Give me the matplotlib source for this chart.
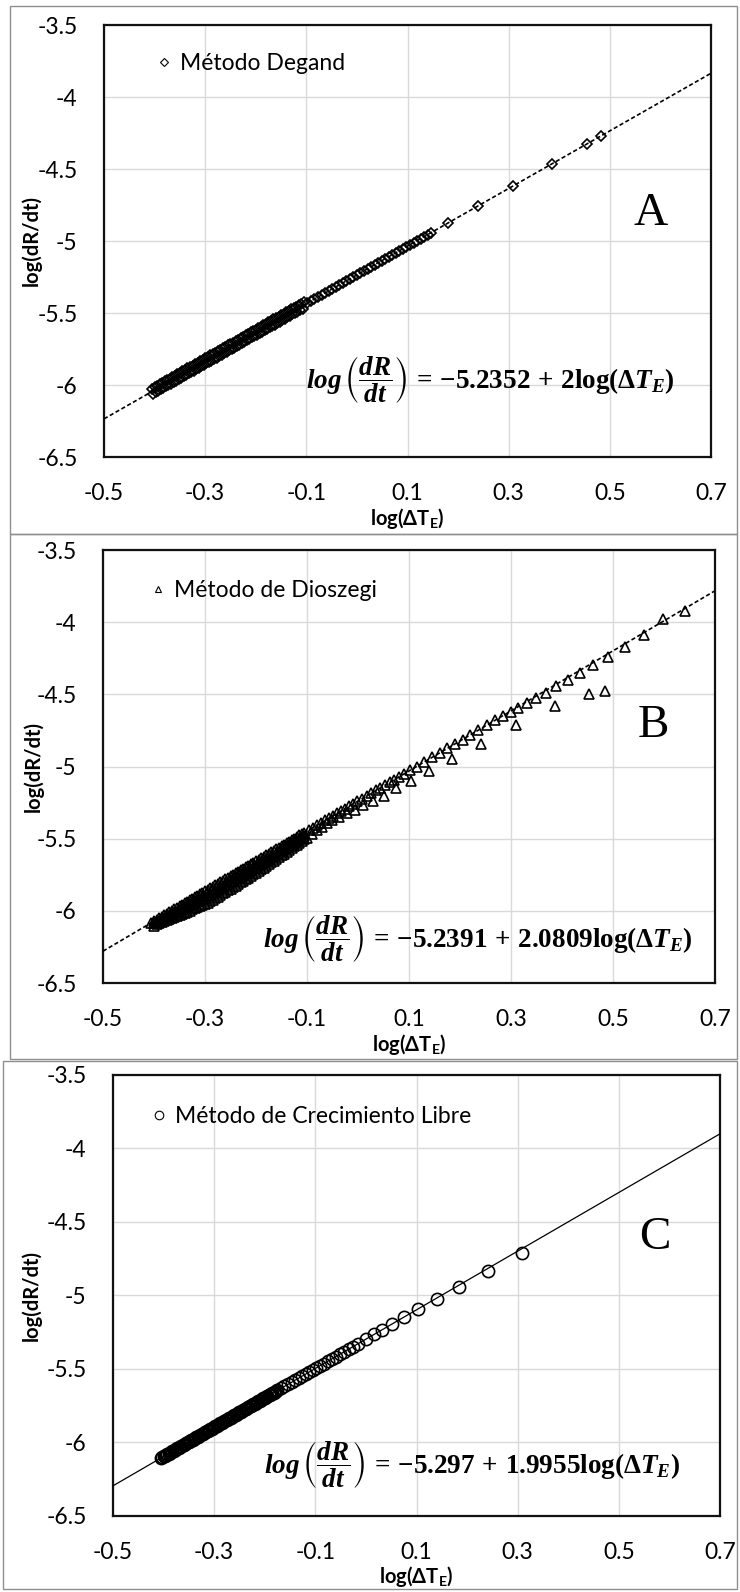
import matplotlib
matplotlib.use("Agg")
import matplotlib.pyplot as plt
import numpy as np
from matplotlib.patches import Rectangle
from matplotlib.lines import Line2D

plt.rcParams['font.family'] = ['Lato', 'DejaVu Sans']
plt.rcParams['mathtext.fontset'] = 'custom'
plt.rcParams['mathtext.rm'] = 'Liberation Serif:bold'
plt.rcParams['mathtext.it'] = 'Liberation Serif:italic:bold'
plt.rcParams['mathtext.bf'] = 'Liberation Serif:bold'
plt.rcParams['mathtext.sf'] = 'Lato:bold'
plt.rcParams['mathtext.fallback'] = 'stix'

# ---------------- data ----------------
x_ticks = [-0.5, -0.3, -0.1, 0.1, 0.3, 0.5, 0.7]
x_tick_labels = ["-0.5", "-0.3", "-0.1", "0.1", "0.3", "0.5", "0.7"]
y_ticks = [-3.5, -4, -4.5, -5, -5.5, -6, -6.5]
y_tick_labels = ["-3.5", "-4", "-4.5", "-5", "-5.5", "-6", "-6.5"]

# Panel A - Método Degand
A_x = [-0.4050, -0.4025, -0.4000, -0.3975, -0.3950, -0.3925, -0.3900, -0.3875, -0.3850, -0.3825,
       -0.3800, -0.3775, -0.3750, -0.3725, -0.3700, -0.3675, -0.3650, -0.3625, -0.3600, -0.3575,
       -0.3550, -0.3525, -0.3500, -0.3475, -0.3450, -0.3425, -0.3400, -0.3375, -0.3350, -0.3325,
       -0.3300, -0.3275, -0.3250, -0.3225, -0.3200, -0.3175, -0.3150, -0.3125, -0.3100, -0.3075,
       -0.3050, -0.3025, -0.3000, -0.2975, -0.2950, -0.2925, -0.2900, -0.2875, -0.2850, -0.2825,
       -0.2800, -0.2775, -0.2750, -0.2725, -0.2700, -0.2675, -0.2650, -0.2625, -0.2600, -0.2575,
       -0.2550, -0.2525, -0.2500, -0.2475, -0.2450, -0.2425, -0.2400, -0.2375, -0.2350, -0.2325,
       -0.2300, -0.2275, -0.2250, -0.2225, -0.2200, -0.2175, -0.2150, -0.2125, -0.2100, -0.2075,
       -0.2050, -0.2025, -0.2000, -0.1975, -0.1950, -0.1925, -0.1900, -0.1875, -0.1850, -0.1825,
       -0.1800, -0.1775, -0.1750, -0.1725, -0.1700, -0.1675, -0.1650, -0.1625, -0.1600, -0.1575,
       -0.1550, -0.1525, -0.1500, -0.1475, -0.1450, -0.1425, -0.1400, -0.1375, -0.1350, -0.1325,
       -0.1300, -0.1275, -0.1250, -0.1225, -0.1200, -0.1175, -0.1150, -0.1125, -0.1100, -0.1075,
       -0.1050,
       -0.098, -0.091, -0.084, -0.077, -0.070, -0.063, -0.056, -0.049, -0.042, -0.035,
       -0.028, -0.021, -0.014, -0.007, 0.000, 0.007, 0.014, 0.021, 0.028, 0.035,
       0.042, 0.049, 0.056, 0.063, 0.070, 0.077, 0.084, 0.091, 0.098, 0.105,
       0.112, 0.119, 0.126, 0.133, 0.140, 0.147,
       0.181, 0.239, 0.308, 0.385, 0.454, 0.482]
A_y = [-6.025, -6.060, -6.015, -6.050, -6.005, -6.040, -5.995, -6.030, -5.985, -6.020,
       -5.975, -6.010, -5.965, -6.000, -5.955, -5.990, -5.945, -5.980, -5.935, -5.970,
       -5.925, -5.960, -5.915, -5.950, -5.905, -5.940, -5.895, -5.930, -5.885, -5.920,
       -5.875, -5.910, -5.865, -5.900, -5.855, -5.890, -5.845, -5.880, -5.835, -5.870,
       -5.825, -5.860, -5.815, -5.850, -5.805, -5.840, -5.795, -5.830, -5.785, -5.820,
       -5.775, -5.810, -5.765, -5.800, -5.755, -5.790, -5.745, -5.780, -5.735, -5.770,
       -5.725, -5.760, -5.715, -5.750, -5.705, -5.740, -5.695, -5.730, -5.685, -5.720,
       -5.675, -5.710, -5.665, -5.700, -5.655, -5.690, -5.645, -5.680, -5.635, -5.670,
       -5.625, -5.660, -5.615, -5.650, -5.605, -5.640, -5.595, -5.630, -5.585, -5.620,
       -5.575, -5.610, -5.565, -5.600, -5.555, -5.590, -5.545, -5.580, -5.535, -5.570,
       -5.525, -5.560, -5.515, -5.550, -5.505, -5.540, -5.495, -5.530, -5.485, -5.520,
       -5.475, -5.510, -5.465, -5.500, -5.455, -5.490, -5.445, -5.480, -5.435, -5.470,
       -5.425,
       -5.431, -5.417, -5.403, -5.389, -5.375, -5.361, -5.347, -5.333, -5.319, -5.305,
       -5.291, -5.277, -5.263, -5.249, -5.235, -5.221, -5.207, -5.193, -5.179, -5.165,
       -5.151, -5.137, -5.123, -5.109, -5.095, -5.081, -5.067, -5.053, -5.039, -5.025,
       -5.011, -4.997, -4.983, -4.969, -4.955, -4.941,
       -4.873, -4.757, -4.619, -4.465, -4.327, -4.271]
A_fit = (-5.2352, 2.0)

# Panel B - Método de Dioszegi (upper edge, on the fit)
B_up_x = [-0.405, -0.400, -0.395, -0.390, -0.385, -0.380, -0.375, -0.370, -0.365, -0.360,
          -0.355, -0.350, -0.345, -0.340, -0.335, -0.330, -0.325, -0.320, -0.315, -0.310,
          -0.305, -0.300, -0.295, -0.290, -0.285, -0.280, -0.275, -0.270, -0.265, -0.260,
          -0.255, -0.250, -0.245, -0.240, -0.235, -0.230, -0.225, -0.220, -0.215, -0.210,
          -0.205, -0.200, -0.195, -0.190, -0.185, -0.180, -0.175, -0.170, -0.165, -0.160,
          -0.155, -0.150, -0.145, -0.140, -0.135, -0.130, -0.125, -0.120, -0.115, -0.110,
          -0.105,
          -0.097, -0.089, -0.081, -0.073, -0.065, -0.057, -0.049, -0.041, -0.033, -0.025,
          -0.017, -0.009, -0.001, 0.008, 0.017, 0.026, 0.035, 0.044, 0.053, 0.062,
          0.071, 0.081, 0.091, 0.102, 0.115, 0.130, 0.145, 0.160, 0.175, 0.190,
          0.205, 0.220, 0.236, 0.252, 0.268, 0.284,
          0.300, 0.313, 0.331, 0.349, 0.369, 0.388, 0.411, 0.435, 0.461, 0.491,
          0.524, 0.560, 0.599, 0.641]
B_up_y = [-6.082, -6.071, -6.061, -6.051, -6.040, -6.030, -6.019, -6.009, -5.999, -5.988,
          -5.978, -5.967, -5.957, -5.947, -5.936, -5.926, -5.915, -5.905, -5.895, -5.884,
          -5.874, -5.863, -5.853, -5.843, -5.832, -5.822, -5.811, -5.801, -5.791, -5.780,
          -5.770, -5.759, -5.749, -5.739, -5.728, -5.718, -5.707, -5.697, -5.687, -5.676,
          -5.666, -5.655, -5.645, -5.635, -5.624, -5.614, -5.603, -5.593, -5.583, -5.572,
          -5.562, -5.551, -5.541, -5.530, -5.520, -5.510, -5.499, -5.489, -5.478, -5.468,
          -5.458,
          -5.441, -5.424, -5.408, -5.391, -5.374, -5.358, -5.341, -5.324, -5.308, -5.291,
          -5.275, -5.258, -5.241, -5.223, -5.204, -5.185, -5.166, -5.148, -5.129, -5.110,
          -5.091, -5.071, -5.050, -5.027, -5.000, -4.969, -4.937, -4.906, -4.875, -4.844,
          -4.813, -4.781, -4.748, -4.715, -4.681, -4.648,
          -4.623, -4.593, -4.558, -4.526, -4.491, -4.444, -4.403, -4.352, -4.299, -4.241,
          -4.171, -4.086, -3.981, -3.924]
# Panel B (middle of the dense band)
B_mid_x = [-0.395, -0.385, -0.375, -0.365, -0.355, -0.345, -0.335, -0.325, -0.315, -0.305,
           -0.295, -0.285, -0.275, -0.265, -0.255, -0.245, -0.235, -0.225, -0.215, -0.205,
           -0.195, -0.185, -0.175, -0.165, -0.155, -0.145, -0.135, -0.125, -0.115, -0.105,
           -0.40, -0.39, -0.38, -0.37, -0.36, -0.35, -0.34, -0.33, -0.32, -0.31,
           -0.30, -0.29, -0.28, -0.27, -0.26, -0.25, -0.24, -0.23, -0.22, -0.21,
           -0.20, -0.19, -0.18, -0.17, -0.16, -0.15, -0.14, -0.13, -0.12, -0.11]
B_mid_y = [-6.078, -6.060, -6.042, -6.024, -6.006, -5.989, -5.971, -5.953, -5.935, -5.917,
           -5.898, -5.877, -5.856, -5.835, -5.814, -5.792, -5.771, -5.749, -5.728, -5.706,
           -5.684, -5.662, -5.639, -5.617, -5.595, -5.572, -5.550, -5.527, -5.504, -5.481,
           -6.087, -6.069, -6.051, -6.033, -6.015, -5.997, -5.980, -5.962, -5.944, -5.926,
           -5.908, -5.888, -5.867, -5.845, -5.824, -5.803, -5.782, -5.760, -5.739, -5.717,
           -5.695, -5.673, -5.651, -5.628, -5.606, -5.584, -5.561, -5.538, -5.515, -5.492]
# Panel B (lower branch)
B_lo_x = [-0.40, -0.39, -0.38, -0.37, -0.36, -0.35, -0.34, -0.33, -0.32, -0.31,
          -0.30, -0.29, -0.28, -0.27, -0.26, -0.25, -0.24, -0.23, -0.22, -0.21,
          -0.20, -0.19, -0.18, -0.17, -0.16, -0.15, -0.14, -0.13, -0.12, -0.11,
          -0.10, -0.09, -0.08, -0.07, -0.06,
          -0.051, -0.038, -0.022, -0.006, 0.010, 0.029, 0.051, 0.075, 0.103, 0.139,
          0.184, 0.241, 0.309, 0.386, 0.453, 0.485,
          -0.395, -0.385, -0.375, -0.365, -0.355, -0.345, -0.335, -0.325, -0.315, -0.305,
          -0.295, -0.285, -0.275, -0.265, -0.255, -0.245, -0.235, -0.225, -0.215, -0.205,
          -0.195, -0.185, -0.175, -0.165, -0.155, -0.145, -0.135, -0.125, -0.115, -0.105]
B_lo_y = [-6.102, -6.087, -6.072, -6.057, -6.042, -6.027, -6.013, -5.998, -5.983, -5.968,
          -5.953, -5.933, -5.912, -5.890, -5.868, -5.846, -5.825, -5.803, -5.781, -5.758,
          -5.735, -5.712, -5.688, -5.664, -5.640, -5.616, -5.591, -5.567, -5.542, -5.517,
          -5.492, -5.467, -5.443, -5.418, -5.393,
          -5.372, -5.348, -5.324, -5.298, -5.269, -5.238, -5.201, -5.151, -5.102, -5.033,
          -4.949, -4.843, -4.711, -4.583, -4.500, -4.477,
          -6.094, -6.079, -6.064, -6.050, -6.035, -6.020, -6.005, -5.990, -5.976, -5.961,
          -5.943, -5.922, -5.901, -5.879, -5.857, -5.835, -5.814, -5.792, -5.770, -5.747,
          -5.723, -5.700, -5.676, -5.652, -5.628, -5.604, -5.579, -5.554, -5.529, -5.505]
B_fit = (-5.2391, 2.0809)

# Panel C - Método de Crecimiento Libre
C_x = [-0.4050, -0.4025, -0.4000, -0.3975, -0.3950, -0.3925, -0.3900, -0.3875, -0.3850, -0.3825,
       -0.3800, -0.3775, -0.3750, -0.3725, -0.3700, -0.3675, -0.3650, -0.3625, -0.3600, -0.3575,
       -0.3550, -0.3525, -0.3500, -0.3475, -0.3450, -0.3425, -0.3400, -0.3375, -0.3350, -0.3325,
       -0.3300, -0.3275, -0.3250, -0.3225, -0.3200, -0.3175, -0.3150, -0.3125, -0.3100, -0.3075,
       -0.3050, -0.3025, -0.3000, -0.2975, -0.2950, -0.2925, -0.2900, -0.2875, -0.2850, -0.2825,
       -0.2800, -0.2775, -0.2750, -0.2725, -0.2700, -0.2675, -0.2650, -0.2625, -0.2600, -0.2575,
       -0.2550, -0.2525, -0.2500, -0.2475, -0.2450, -0.2425, -0.2400, -0.2375, -0.2350, -0.2325,
       -0.2300, -0.2275, -0.2250, -0.2225, -0.2200, -0.2175, -0.2150, -0.2125, -0.2100, -0.2075,
       -0.2050, -0.2025, -0.2000, -0.1975, -0.1950, -0.1925, -0.1900, -0.1875, -0.1850, -0.1825,
       -0.1800, -0.1775, -0.1750,
       -0.168, -0.161, -0.154, -0.147, -0.140, -0.133, -0.126, -0.119, -0.112, -0.105,
       -0.098, -0.091, -0.083, -0.075, -0.067, -0.059, -0.051, -0.043, -0.034, -0.025,
       -0.016,
       0.000, 0.016, 0.032, 0.051, 0.076, 0.103, 0.140, 0.184, 0.242, 0.309]
C_y = [-6.105, -6.100, -6.095, -6.090, -6.085, -6.080, -6.075, -6.070, -6.065, -6.060,
       -6.055, -6.050, -6.045, -6.040, -6.035, -6.030, -6.025, -6.020, -6.015, -6.010,
       -6.005, -6.000, -5.995, -5.990, -5.985, -5.980, -5.975, -5.970, -5.965, -5.960,
       -5.955, -5.950, -5.945, -5.940, -5.935, -5.930, -5.925, -5.920, -5.915, -5.910,
       -5.905, -5.900, -5.895, -5.890, -5.885, -5.880, -5.875, -5.870, -5.865, -5.860,
       -5.855, -5.850, -5.845, -5.840, -5.835, -5.830, -5.825, -5.820, -5.815, -5.810,
       -5.805, -5.800, -5.795, -5.790, -5.785, -5.780, -5.775, -5.770, -5.765, -5.760,
       -5.755, -5.750, -5.745, -5.740, -5.735, -5.730, -5.725, -5.720, -5.715, -5.710,
       -5.705, -5.700, -5.695, -5.690, -5.685, -5.680, -5.675, -5.670, -5.665, -5.660,
       -5.655, -5.650, -5.645,
       -5.632, -5.618, -5.604, -5.590, -5.576, -5.562, -5.548, -5.534, -5.520, -5.507,
       -5.493, -5.479, -5.463, -5.447, -5.431, -5.415, -5.399, -5.383, -5.365, -5.347,
       -5.329,
       -5.296, -5.261, -5.235, -5.193, -5.144, -5.091, -5.027, -4.942, -4.833, -4.710]
C_fit = (-5.297, 1.9955)

assert len(A_x) == len(A_y) and len(B_up_x) == len(B_up_y) and len(B_mid_x) == len(B_mid_y)
assert len(B_lo_x) == len(B_lo_y) and len(C_x) == len(C_y)

# ---------------- figure ----------------
W, H = 740, 1592
fig = plt.figure(figsize=(W / 100, H / 100), dpi=100)
fig.patch.set_facecolor('white')


def add_ax(l, r, t, b):
    return fig.add_axes([l / W, 1 - b / H, (r - l) / W, (b - t) / H])


def border(l, r, t, b):
    fig.add_artist(Rectangle((l / W, 1 - b / H), (r - l) / W, (b - t) / H,
                             transform=fig.transFigure, fill=False,
                             edgecolor='#8f8f8f', linewidth=1.0))


EQ = r'$log\,\left(\dfrac{dR}{dt}\right)\,=\,{-%s}\,+\,%s\mathrm{log}(\Delta T_E)$'

panels = [
    dict(box=(104, 711, 25, 457), frame=(10, 737, 6, 534),
         series=[(A_x, A_y)], marker='D', ms=5.2, mew=1.2, fit=A_fit, ls=(0, (2.5, 1.5)), lw=1.2,
         label='Método Degand', legpos=(0.088, 0.935),
         letter='A', letpos=(0.58, -4.81),
         eq=EQ % ('5.2352', '2'),
         eqpos=(0.263, -5.965), ylab_x=-0.120, xlab_y=-0.1435),
    dict(box=(103, 715, 550, 983), frame=(10, 737, 534, 1059),
         series=[(B_up_x, B_up_y), (B_mid_x, B_mid_y), (B_lo_x, B_lo_y)], marker='^', ms=6.5,
         mew=1.2, fit=B_fit, ls=(0, (2.5, 1.5)), lw=1.2,
         label='Método de Dioszegi', legpos=(0.079, 0.930),
         letter='B', letpos=(0.58, -4.72),
         eq=EQ % ('5.2391', '2.0809'),
         eqpos=(0.235, -6.19), ylab_x=-0.114, xlab_y=-0.143),
    dict(box=(113, 720, 1075, 1516), frame=(3, 737, 1061, 1589),
         series=[(C_x, C_y)], marker='o', ms=8.8, mew=1.2, fit=C_fit, ls='-', lw=0.9,
         label='Método de Crecimiento Libre', legpos=(0.065, 0.930),
         letter='C', letpos=(0.572, -4.61),
         eq=EQ % ('5.297', '1.9955'),
         eqpos=(0.21, -6.153), ylab_x=-0.135, xlab_y=-0.138),
]

for p in panels:
    border(*p['frame'])
    ax = add_ax(*p['box'])
    ax.set_xlim(-0.5, 0.7)
    ax.set_ylim(-6.5, -3.5)
    ax.set_xticks(x_ticks)
    ax.set_xticklabels(x_tick_labels)
    ax.set_yticks(y_ticks)
    ax.set_yticklabels(y_tick_labels)
    ax.tick_params(axis='both', length=0, labelsize=16.5, colors='black')
    ax.tick_params(axis='y', pad=19)
    ax.tick_params(axis='x', pad=19)
    ax.grid(True, color='#d9d9d9', linewidth=1.0)
    ax.set_axisbelow(True)
    for s in ax.spines.values():
        s.set_linewidth(1.6)
        s.set_color('#111111')

    for sx, sy in p['series']:
        ax.plot(sx, sy, linestyle='none', marker=p['marker'], ms=p['ms'],
                mfc='none', mec='black', mew=p['mew'], zorder=3)

    a, b = p['fit']
    xx = np.array([-0.5, 0.7])
    ax.plot(xx, a + b * xx, color='black', linestyle=p['ls'], linewidth=p['lw'], zorder=4)

    h = Line2D([], [], linestyle='none', marker=p['marker'], ms=p['ms'] * 0.7,
               mfc='none', mec='black', mew=0.8)
    ax.legend([h], [p['label']], loc='upper left', bbox_to_anchor=p['legpos'],
              frameon=False, fontsize=16.5, handlelength=0.6, handletextpad=0.4,
              borderpad=0, borderaxespad=0)

    ax.text(p['letpos'][0], p['letpos'][1], p['letter'], family='Liberation Serif',
            fontsize=34, ha='center', va='center')
    ax.text(p['eqpos'][0], p['eqpos'][1], p['eq'], fontsize=19.5, ha='center', va='center')

    ax.set_ylabel('log(dR/dt)', fontsize=14.5, fontweight='bold', va='center')
    ax.yaxis.set_label_coords(p['ylab_x'], 0.5)
    ax.set_xlabel(r'log(ΔT$_\mathsf{E}$)', fontsize=14.5, fontweight='bold', va='center')
    ax.xaxis.set_label_coords(0.5, p['xlab_y'])

fig.savefig('out.png', dpi=100, facecolor='white')
